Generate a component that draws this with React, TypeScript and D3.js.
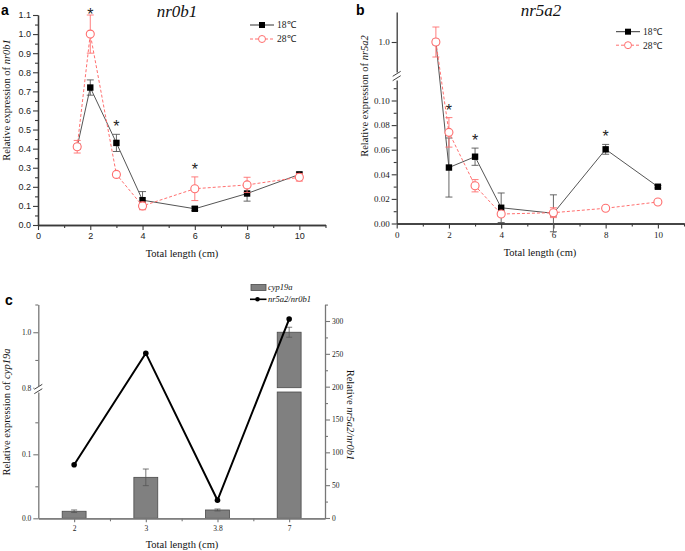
import React, { useEffect, useRef } from "react";
import * as d3 from "d3";

// panel a: nr0b1
const lengthsA = [1.5, 2, 3, 4, 6, 8, 10];
const nr0b1At18 = [0.41, 0.72, 0.43, 0.13, 0.085, 0.165, 0.265];
const nr0b1At18Err = [0.01, 0.04, 0.045, 0.045, 0.01, 0.04, 0.012];
const nr0b1At28 = [0.41, 1.0, 0.265, 0.1, 0.19, 0.21, 0.25];
const nr0b1At28Err = [0.033, 0.1, 0.015, 0.02, 0.062, 0.04, 0.02];
const starsA = [2, 3, 6];

// panel b: nr5a2
const lengthsB = [1.5, 2, 3, 4, 6, 8, 10];
const nr5a2At18 = [1.0, 0.0455, 0.0543, 0.0128, 0.0083, 0.0603, 0.0299];
const nr5a2At18Err = [0, 0.024, 0.007, 0.012, 0.015, 0.004, 0.001];
const nr5a2At28 = [1.0, 0.0741, 0.0307, 0.0077, 0.0088, 0.0124, 0.0175];
const nr5a2At28Err = [0.125, 0.012, 0.005, 0.002, 0.004, 0.001, 0.001];
const starsB = [2, 3, 8];

// panel c: cyp19a bars + ratio line
const lengthsC = ["2", "3", "3.8", "7"];
const cyp19a = [0.011, 0.064, 0.013, 1.0];
const cyp19aErr = [0.002, 0.013, 0.0015, 0.018];
const ratio = [81, 251, 27, 303];

const SERIF = "'Liberation Serif', 'Times New Roman', serif";
const SANS = "'Liberation Sans', Arial, sans-serif";
const RED = "#ff6f6f";

function styleAxis(sel: any, color: string, font: string, size: number) {
  sel.attr("font-family", font).attr("font-size", size);
  sel.select(".domain").attr("stroke", color).attr("stroke-width", 1.3);
  sel.selectAll(".tick line").attr("stroke", color).attr("stroke-width", 1.1);
  sel.selectAll(".tick text").attr("fill", "#222");
}

function errorBars(g: any, xs: number[], vals: number[], errs: number[], x: any, y: any, color: string) {
  xs.forEach((xv, i) => {
    const e = errs[i];
    if (!e) return;
    const cx = x(xv);
    const y1 = y(vals[i] - e);
    const y2 = y(vals[i] + e);
    g.append("line").attr("x1", cx).attr("x2", cx).attr("y1", y1).attr("y2", y2)
      .attr("stroke", color).attr("stroke-width", 0.9);
    [y1, y2].forEach((yy) => {
      g.append("line").attr("x1", cx - 3.5).attr("x2", cx + 3.5).attr("y1", yy).attr("y2", yy)
        .attr("stroke", color).attr("stroke-width", 0.9);
    });
  });
}

function series(g: any, xs: number[], vals: number[], x: any, y: any, kind: "sq" | "ci") {
  const line = d3.line<number>().x((_, i) => x(xs[i])).y((d) => y(d));
  g.append("path").datum(vals).attr("d", line).attr("fill", "none")
    .attr("stroke", kind === "sq" ? "#555" : RED).attr("stroke-width", 1)
    .attr("stroke-dasharray", kind === "sq" ? null : "3,2");
  vals.forEach((v, i) => {
    if (kind === "sq") {
      g.append("rect").attr("x", x(xs[i]) - 3.2).attr("y", y(v) - 3.2).attr("width", 6.4).attr("height", 6.4).attr("fill", "#000");
    } else {
      g.append("circle").attr("cx", x(xs[i])).attr("cy", y(v)).attr("r", 4)
        .attr("fill", "#fff").attr("stroke", RED).attr("stroke-width", 1.1);
    }
  });
}

function legend(g: any, x0: number, y0: number, gap: number) {
  const rows: ["sq" | "ci", string][] = [["sq", "18℃"], ["ci", "28℃"]];
  rows.forEach(([kind, label], i) => {
    const yy = y0 + i * gap;
    g.append("line").attr("x1", x0).attr("x2", x0 + 24).attr("y1", yy).attr("y2", yy)
      .attr("stroke", kind === "sq" ? "#333" : RED).attr("stroke-width", 1)
      .attr("stroke-dasharray", kind === "sq" ? null : "3,2");
    if (kind === "sq") {
      g.append("rect").attr("x", x0 + 12 - 3).attr("y", yy - 3).attr("width", 6).attr("height", 6).attr("fill", "#000");
    } else {
      g.append("circle").attr("cx", x0 + 12).attr("cy", yy).attr("r", 3.5).attr("fill", "#fff").attr("stroke", RED);
    }
    g.append("text").attr("x", x0 + 27).attr("y", yy).attr("dy", "0.35em")
      .attr("font-family", SERIF).attr("font-size", 9.5).attr("fill", "#222").text(label);
  });
}

function breakMark(g: any, ax: number, yc: number) {
  g.append("rect").attr("x", ax - 4).attr("y", yc - 3).attr("width", 8).attr("height", 6).attr("fill", "#fff");
  [-2.2, 2.2].forEach((o) => {
    g.append("line").attr("x1", ax - 4).attr("x2", ax + 4).attr("y1", yc + o + 2.5).attr("y2", yc + o - 2.5)
      .attr("stroke", "#444").attr("stroke-width", 1);
  });
}

function drawPanelA(svg: any) {
  const g = svg.append("g");
  const x = d3.scaleLinear().domain([0, 11]).range([38, 325.5]);
  const y = d3.scaleLinear().domain([0, 1.1]).range([225, 15]);
  const col = "#3a3a3a";

  const xm = g.append("g").attr("transform", "translate(0,225)")
    .call(d3.axisBottom(x).tickValues([1, 3, 5, 7, 9, 11]).tickSize(3).tickSizeOuter(0).tickFormat(() => ""));
  styleAxis(xm, col, SANS, 9);
  const xa = g.append("g").attr("transform", "translate(0,225)")
    .call(d3.axisBottom(x).tickValues([0, 2, 4, 6, 8, 10]).tickSize(5).tickSizeOuter(0).tickPadding(3).tickFormat(d3.format("d")));
  styleAxis(xa, col, SANS, 9);
  const ym = g.append("g").attr("transform", "translate(38,0)")
    .call(d3.axisLeft(y).tickValues(d3.range(0.05, 1.1, 0.1)).tickSize(3).tickSizeOuter(0).tickFormat(() => ""));
  styleAxis(ym, col, SANS, 9);
  const ya = g.append("g").attr("transform", "translate(38,0)")
    .call(d3.axisLeft(y).tickValues(d3.range(0, 1.11, 0.1)).tickSize(5).tickSizeOuter(0).tickPadding(2).tickFormat(d3.format(".1f")));
  styleAxis(ya, col, SANS, 9);

  errorBars(g, lengthsA, nr0b1At18, nr0b1At18Err, x, y, "#555");
  series(g, lengthsA, nr0b1At18, x, y, "sq");
  errorBars(g, lengthsA, nr0b1At28, nr0b1At28Err, x, y, RED);
  series(g, lengthsA, nr0b1At28, x, y, "ci");

  starsA.forEach((s) => {
    const i = lengthsA.indexOf(s);
    const top = Math.min(y(nr0b1At18[i] + nr0b1At18Err[i]), y(nr0b1At28[i] + nr0b1At28Err[i]));
    g.append("text").attr("x", x(s)).attr("y", Math.max(top - 2, 20)).attr("text-anchor", "middle")
      .attr("font-family", SANS).attr("font-size", 16).attr("fill", "#222").text("*");
  });

  g.append("text").attr("x", 177).attr("y", 17).attr("text-anchor", "middle")
    .attr("font-family", SERIF).attr("font-style", "italic").attr("font-size", 17).attr("fill", "#111").text("nr0b1");
  g.append("text").attr("x", 182).attr("y", 257).attr("text-anchor", "middle")
    .attr("font-family", SERIF).attr("font-size", 10.5).attr("fill", "#111").text("Total length (cm)");
  const yl = g.append("text").attr("transform", "translate(10,100) rotate(-90)").attr("text-anchor", "middle")
    .attr("font-family", SERIF).attr("font-size", 10.5).attr("fill", "#111");
  yl.append("tspan").text("Relative expression of ");
  yl.append("tspan").attr("font-style", "italic").text("nr0b1");
  g.append("text").attr("x", 1).attr("y", 15).attr("font-family", SANS).attr("font-weight", "bold")
    .attr("font-size", 14).attr("fill", "#000").text("a");
  legend(g, 250, 25, 14);
}

function drawPanelB(svg: any) {
  const g = svg.append("g");
  const ax = 396.7;
  const x = d3.scaleLinear().domain([0, 11]).range([ax, 684]);
  const yLow = d3.scaleLinear().domain([0, 0.1]).range([223.5, 100.5]);
  const yHigh = d3.scaleLinear().domain([0.75, 1.25]).range([72, 12]);
  const y = (v: number) => (v > 0.5 ? yHigh(v) : yLow(v));
  const col = "#3a3a3a";

  const xm = g.append("g").attr("transform", "translate(0,223.5)")
    .call(d3.axisBottom(x).tickValues([1, 3, 5, 7, 9, 11]).tickSize(3).tickSizeOuter(0).tickFormat(() => ""));
  styleAxis(xm, col, SERIF, 9);
  const xa = g.append("g").attr("transform", "translate(0,223.5)")
    .call(d3.axisBottom(x).tickValues([0, 2, 4, 6, 8, 10]).tickSize(5).tickSizeOuter(0).tickPadding(3).tickFormat(d3.format("d")));
  styleAxis(xa, col, SERIF, 9);

  const lowAxisScale = d3.scaleLinear().domain([0, yLow.invert(80)]).range([223.5, 80]);
  const ym = g.append("g").attr("transform", `translate(${ax},0)`)
    .call(d3.axisLeft(lowAxisScale).tickValues(d3.range(0.01, 0.115, 0.02)).tickSize(3).tickSizeOuter(0).tickFormat(() => ""));
  styleAxis(ym, col, SERIF, 9);
  const ya = g.append("g").attr("transform", `translate(${ax},0)`)
    .call(d3.axisLeft(yLow).tickValues(d3.range(0, 0.101, 0.02)).tickSize(5).tickSizeOuter(0).tickPadding(2).tickFormat(d3.format(".2f")));
  styleAxis(ya, col, SERIF, 9);
  ya.select(".domain").remove();
  const yh = g.append("g").attr("transform", `translate(${ax},0)`)
    .call(d3.axisLeft(yHigh).tickValues([1.0]).tickSize(5).tickSizeOuter(0).tickPadding(2).tickFormat(d3.format(".1f")));
  styleAxis(yh, col, SERIF, 9);
  breakMark(g, ax, 76);

  errorBars(g, lengthsB, nr5a2At18, nr5a2At18Err, x, y, "#555");
  series(g, lengthsB, nr5a2At18, x, y, "sq");
  errorBars(g, lengthsB, nr5a2At28, nr5a2At28Err, x, y, RED);
  series(g, lengthsB, nr5a2At28, x, y, "ci");

  starsB.forEach((s) => {
    const i = lengthsB.indexOf(s);
    const top = Math.min(y(nr5a2At18[i] + nr5a2At18Err[i]), y(nr5a2At28[i] + nr5a2At28Err[i]));
    g.append("text").attr("x", x(s)).attr("y", top - 2).attr("text-anchor", "middle")
      .attr("font-family", SANS).attr("font-size", 16).attr("fill", "#222").text("*");
  });

  g.append("text").attr("x", 541).attr("y", 16).attr("text-anchor", "middle")
    .attr("font-family", SERIF).attr("font-style", "italic").attr("font-size", 17).attr("fill", "#111").text("nr5a2");
  g.append("text").attr("x", 540).attr("y", 256).attr("text-anchor", "middle")
    .attr("font-family", SERIF).attr("font-size", 10.5).attr("fill", "#111").text("Total length (cm)");
  const yl = g.append("text").attr("transform", "translate(368,96) rotate(-90)").attr("text-anchor", "middle")
    .attr("font-family", SERIF).attr("font-size", 10.5).attr("fill", "#111");
  yl.append("tspan").text("Relative expression of ");
  yl.append("tspan").attr("font-style", "italic").text("nr5a2");
  g.append("text").attr("x", 356).attr("y", 15).attr("font-family", SANS).attr("font-weight", "bold")
    .attr("font-size", 14).attr("fill", "#000").text("b");
  legend(g, 616, 31.7, 13.5);
}

function drawPanelC(svg: any) {
  const g = svg.append("g");
  const left = 38.3, right = 325, base = 518.3;
  const x = d3.scaleBand<string>().domain(lengthsC).range([left, right]);
  const yLow = d3.scaleLinear().domain([0, 0.1]).range([base, 454.3]);
  const lowTopVal = yLow.invert(392);
  const yHigh = d3.scaleLinear().domain([0.8, 1.1]).range([387.7, 304.5]);
  const yR = d3.scaleLinear().domain([0, 300]).range([518, 321]);
  const col = "#777";

  // bars
  const bw = x.bandwidth() / 3;
  lengthsC.forEach((c, i) => {
    const v = cyp19a[i];
    const bx = (x(c) as number) + x.bandwidth() / 2 - bw / 2;
    const top = v > lowTopVal ? 392 : yLow(v);
    g.append("rect").attr("x", bx).attr("y", top).attr("width", bw).attr("height", base - top)
      .attr("fill", "#808080").attr("stroke", "#4a4a4a").attr("stroke-width", 0.8);
    if (v > lowTopVal) {
      g.append("rect").attr("x", bx).attr("y", yHigh(v)).attr("width", bw).attr("height", 387.7 - yHigh(v))
        .attr("fill", "#808080").attr("stroke", "#4a4a4a").attr("stroke-width", 0.8);
    }
    const yy = (t: number) => (t > 0.5 ? yHigh(t) : yLow(t));
    const cx = bx + bw / 2;
    const e1 = yy(v - cyp19aErr[i]), e2 = yy(v + cyp19aErr[i]);
    g.append("line").attr("x1", cx).attr("x2", cx).attr("y1", e1).attr("y2", e2).attr("stroke", "#555").attr("stroke-width", 0.8);
    [e1, e2].forEach((ye) => g.append("line").attr("x1", cx - 3).attr("x2", cx + 3).attr("y1", ye).attr("y2", ye)
      .attr("stroke", "#555").attr("stroke-width", 0.8));
  });

  // axes
  const centers = lengthsC.map((c) => (x(c) as number) + x.bandwidth() / 2);
  const xs = d3.scaleLinear().domain([left, right]).range([left, right]);
  const xm = g.append("g").attr("transform", `translate(0,${base})`)
    .call(d3.axisBottom(xs).tickValues(lengthsC.slice(1).map((c) => x(c) as number)).tickSize(3).tickSizeOuter(0).tickFormat(() => ""));
  styleAxis(xm, col, SERIF, 7.5);
  const xa = g.append("g").attr("transform", `translate(0,${base})`)
    .call(d3.axisBottom(xs).tickValues(centers).tickSize(4).tickSizeOuter(0).tickPadding(3).tickFormat((_, i) => lengthsC[i]));
  styleAxis(xa, col, SERIF, 7.5);

  const lowAxis = d3.scaleLinear().domain([0, lowTopVal]).range([base, 392]);
  const ylm = g.append("g").attr("transform", `translate(${left},0)`)
    .call(d3.axisLeft(lowAxis).tickValues([0.05, 0.15]).tickSize(3).tickSizeOuter(0).tickFormat(() => ""));
  styleAxis(ylm, col, SERIF, 7.5);
  const yla = g.append("g").attr("transform", `translate(${left},0)`)
    .call(d3.axisLeft(lowAxis).tickValues([0, 0.1]).tickSize(5).tickSizeOuter(0).tickPadding(2).tickFormat(d3.format(".1f")));
  styleAxis(yla, col, SERIF, 7.5);
  yla.select(".domain").remove();
  const yhm = g.append("g").attr("transform", `translate(${left},0)`)
    .call(d3.axisLeft(yHigh).tickValues([0.9, 1.1]).tickSize(3).tickSizeOuter(0).tickFormat(() => ""));
  styleAxis(yhm, col, SERIF, 7.5);
  const yha = g.append("g").attr("transform", `translate(${left},0)`)
    .call(d3.axisLeft(yHigh).tickValues([0.8, 1.0]).tickSize(5).tickSizeOuter(0).tickPadding(2).tickFormat(d3.format(".1f")));
  styleAxis(yha, col, SERIF, 7.5);
  yha.select(".domain").remove();
  breakMark(g, left, 389);

  const rAxis = d3.scaleLinear().domain([0, yR.invert(304.5)]).range([518, 304.5]);
  const yrm = g.append("g").attr("transform", `translate(${right},0)`)
    .call(d3.axisRight(rAxis).tickValues(d3.range(25, 326, 50)).tickSize(3).tickSizeOuter(0).tickFormat(() => ""));
  styleAxis(yrm, col, SERIF, 7.5);
  const yra = g.append("g").attr("transform", `translate(${right},0)`)
    .call(d3.axisRight(yR).tickValues(d3.range(0, 301, 50)).tickSize(5).tickSizeOuter(0).tickPadding(2).tickFormat(d3.format("d")));
  styleAxis(yra, col, SERIF, 7.5);
  yra.select(".domain").remove();

  // ratio line
  const line = d3.line<number>().x((_, i) => centers[i]).y((d) => yR(d));
  g.append("path").datum(ratio).attr("d", line).attr("fill", "none").attr("stroke", "#000").attr("stroke-width", 2);
  ratio.forEach((r, i) => g.append("circle").attr("cx", centers[i]).attr("cy", yR(r)).attr("r", 2.8).attr("fill", "#000"));

  // legend
  g.append("rect").attr("x", 251).attr("y", 284.5).attr("width", 15).attr("height", 6)
    .attr("fill", "#808080").attr("stroke", "#4a4a4a").attr("stroke-width", 0.8);
  g.append("text").attr("x", 268).attr("y", 287.5).attr("dy", "0.35em").attr("font-family", SERIF)
    .attr("font-style", "italic").attr("font-size", 8.5).attr("fill", "#111").text("cyp19a");
  g.append("line").attr("x1", 250).attr("x2", 266.5).attr("y1", 299.3).attr("y2", 299.3).attr("stroke", "#000").attr("stroke-width", 1.6);
  g.append("circle").attr("cx", 257.5).attr("cy", 299.3).attr("r", 2.3).attr("fill", "#000");
  g.append("text").attr("x", 268).attr("y", 299.3).attr("dy", "0.35em").attr("font-family", SERIF)
    .attr("font-style", "italic").attr("font-size", 8.5).attr("fill", "#111").text("nr5a2/nr0b1");

  g.append("text").attr("x", 182).attr("y", 548).attr("text-anchor", "middle")
    .attr("font-family", SERIF).attr("font-size", 10.5).attr("fill", "#111").text("Total length (cm)");
  const yl = g.append("text").attr("transform", "translate(10,412) rotate(-90)").attr("text-anchor", "middle")
    .attr("font-family", SERIF).attr("font-size", 10.5).attr("fill", "#111");
  yl.append("tspan").text("Relative expression of ");
  yl.append("tspan").attr("font-style", "italic").text("cyp19a");
  const yr = g.append("text").attr("transform", "translate(347,415) rotate(90)").attr("text-anchor", "middle")
    .attr("font-family", SERIF).attr("font-size", 10.5).attr("fill", "#111");
  yr.append("tspan").text("Relative ");
  yr.append("tspan").attr("font-style", "italic").text("nr5a2/nr0b1");
  g.append("text").attr("x", 5).attr("y", 305).attr("font-family", SANS).attr("font-weight", "bold")
    .attr("font-size", 14).attr("fill", "#000").text("c");
}

export default function App() {
  const ref = useRef<SVGSVGElement>(null);

  useEffect(() => {
    const svg = d3.select(ref.current);
    svg.selectAll("*").remove();
    drawPanelA(svg);
    drawPanelB(svg);
    drawPanelC(svg);
  }, []);

  return (
    <svg
      ref={ref}
      width={685}
      height={551}
      style={{ position: "absolute", left: 0, top: 0, background: "#fff" }}
    />
  );
}
